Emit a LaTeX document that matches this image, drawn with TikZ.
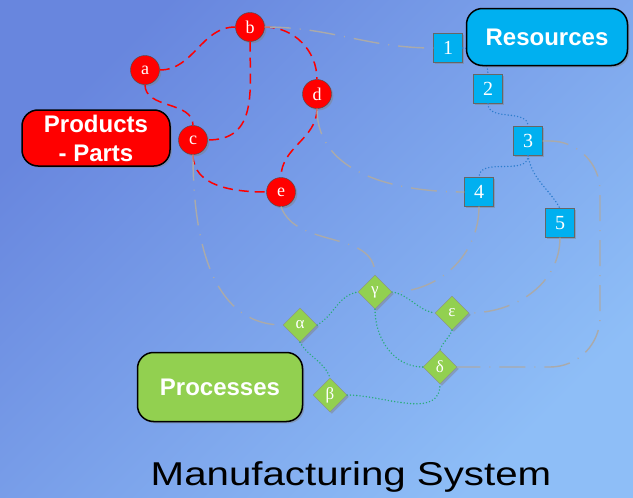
\documentclass[tikz,border=0pt]{standalone}
\usepackage{fontspec}
\setmainfont{Liberation Serif}
\setsansfont{Liberation Sans}
\usetikzlibrary{shapes,shadows,positioning,calc}
\definecolor{bgtop}{RGB}{104,134,222}
\definecolor{bgbottom}{RGB}{142,190,247}
\definecolor{partred}{RGB}{255,0,0}
\definecolor{rescyan}{RGB}{0,176,240}
\definecolor{procgreen}{RGB}{146,208,80}
\definecolor{linkgray}{RGB}{170,170,170}
\definecolor{resdot}{RGB}{45,125,205}
\definecolor{procdot}{RGB}{40,172,120}

\begin{document}
\begin{tikzpicture}[x=1pt, y=1pt,
    shadowed/.style={drop shadow={shadow xshift=1.8pt, shadow yshift=-1.8pt, fill=black!50, opacity=0.45}},
    part/.style={circle, draw=black!70, fill=partred, minimum size=29pt, inner sep=0pt,
        text=white, font=\fontsize{18}{18}\selectfont, shadowed},
    res/.style={rectangle, draw=black!60, fill=rescyan, minimum size=29pt, inner sep=0pt,
        text=white, font=\fontsize{20}{20}\selectfont, shadowed},
    proc/.style={diamond, draw=black!45, fill=procgreen, minimum size=34pt, inner sep=0pt,
        text=white, font=\fontsize{17}{17}\selectfont, shadowed},
    group/.style={rounded corners=16pt, draw=black, line width=1.5pt, text=white,
        font=\sffamily\bfseries\fontsize{24}{29}\selectfont, align=center, shadowed},
    partlink/.style={draw=partred, dash pattern=on 10pt off 6pt, line width=1.5pt},
    reslink/.style={draw=resdot, dash pattern=on 0pt off 3.2pt, line cap=round, line width=1.6pt},
    proclink/.style={draw=procdot, dash pattern=on 0pt off 3.2pt, line cap=round, line width=1.6pt},
    crosslink/.style={draw=linkgray, dash pattern=on 26pt off 9pt on 1pt off 9pt, line width=1.4pt}
]
    \useasboundingbox (0,-498) rectangle (633,0);
    \shade[top color=bgtop, bottom color=bgbottom, shading angle=45] (0,-498) rectangle (633,0);

    % Parts
    \node[part] (a) at (145,-70) {a};
    \node[part] (b) at (250,-27) {b};
    \node[part] (c) at (193,-140) {c};
    \node[part] (d) at (317,-94) {d};
    \node[part] (e) at (281,-192) {e};

    % Resources
    \node[res] (r1) at (448,-48) {1};
    \node[res] (r2) at (488,-89) {2};
    \node[res] (r3) at (528,-141) {3};
    \node[res] (r4) at (479,-192) {4};
    \node[res] (r5) at (560,-223) {5};

    % Processes
    \node[proc] (alpha) at (300,-325) {α};
    \node[proc] (gamma) at (375,-292) {γ};
    \node[proc] (epsilon) at (452,-313) {ε};
    \node[proc] (delta) at (440,-367) {δ};
    \node[proc] (beta) at (330,-395) {β};

    \coordinate (rim) at (600,-250);

    % links between parts
    \draw[partlink] (a.east) to[out=0,in=180] (b.west);
    \draw[partlink] (a.south) to[out=-90,in=90] (c.north);
    \draw[partlink] (b.south) to[out=-90,in=0,looseness=1.2] (c.east);
    \draw[partlink] (b.east) to[out=0,in=90] (d.north);
    \draw[partlink] (d.south) to[out=-90,in=90] (e.north);
    \draw[partlink] (c.south) to[out=-90,in=180] (e.west);

    % links between resources
    \draw[reslink] (r1.east) to[out=0,in=90] (r2.north);
    \draw[reslink] (r2.south) to[out=-90,in=90] (r3.north);
    \draw[reslink] (r3.south) to[out=-90,in=90] (r4.north);
    \draw[reslink] (r3.south) to[out=-80,in=120] (r5.north);

    % links between processes
    \draw[proclink] (alpha.east) to[out=30,in=190] (gamma.west);
    \draw[proclink] (alpha.south) to[out=-60,in=110] (beta.north);
    \draw[proclink] (gamma.east) to[out=-10,in=170] (epsilon.west);
    \draw[proclink] (gamma.south) to[out=-90,in=180] (delta.west);
    \draw[proclink] (epsilon.south) to[out=-110,in=70] (delta.north);
    \draw[proclink] (beta.east) to[out=0,in=-90] (delta.south);

    % links across the groups
    \draw[crosslink] (b.east) to[out=0,in=180] (r1.west);
    \draw[crosslink] (d.south) to[out=-90,in=180] (r4.west);
    \draw[crosslink] (e.south) to[out=-70,in=90] (gamma.north);
    \draw[crosslink] (c.south) to[out=-90,in=180] (alpha.west);
    \draw[crosslink] (r4.south) to[out=-90,in=0] (gamma.east);
    \draw[crosslink] (r5.south) to[out=-90,in=0] (epsilon.east);
    \draw[crosslink, rounded corners=50pt] (r3.east) -| (rim) |- (delta.east);

    % Groups
    \node[group, fill=partred, minimum width=148pt, minimum height=56pt] (products) at (96,-138) {Products\\- Parts};
    \node[group, fill=rescyan, minimum width=161pt, minimum height=57pt] (resources) at (547,-37) {Resources};
    \node[group, fill=procgreen, minimum width=165pt, minimum height=69pt] (processes) at (220,-387) {Processes};

    \node[anchor=base, font=\sffamily\fontsize{33}{33}\selectfont] (title) at (351,-485) {\scalebox{1.22}[1]{Manufacturing System}};
\end{tikzpicture}
\end{document}
